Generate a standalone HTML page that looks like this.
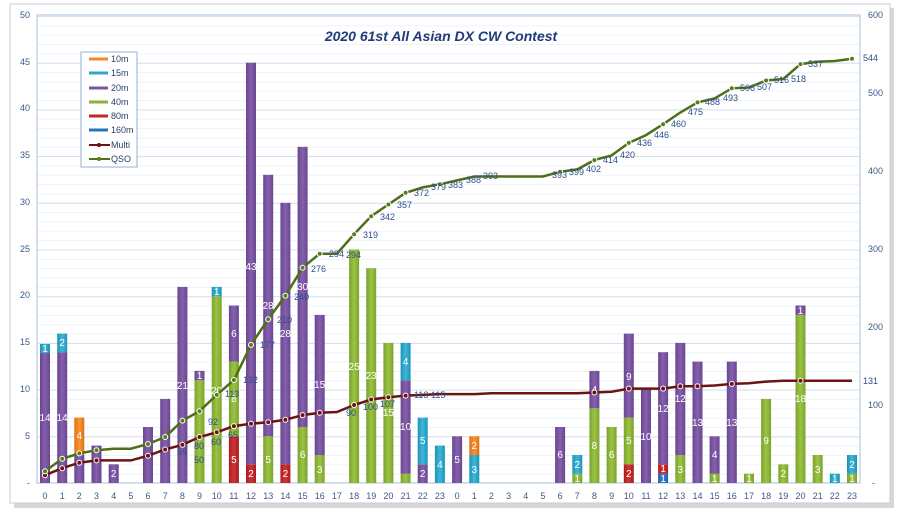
<!DOCTYPE html>
<html><head><meta charset="utf-8"><style>
body{margin:0;background:#fff;width:900px;height:513px;overflow:hidden}
text{font-family:"Liberation Sans",sans-serif}
.ax{font-size:9px;fill:#3b5a8a}
.bl{font-size:10px;fill:#fff;text-anchor:middle}
.ql{font-size:9px;fill:#2a4e8a}
.lg{font-size:9px;fill:#2a3e6a}
</style></head><body>
<svg width="900" height="513" viewBox="0 0 900 513" xmlns="http://www.w3.org/2000/svg">
<defs>
<pattern id="mn" x="0" y="483" width="10" height="9.34" patternUnits="userSpaceOnUse"><line x1="0" y1="0.5" x2="10" y2="0.5" stroke="#eef3fa" stroke-width="1"/></pattern>
<pattern id="mj" x="0" y="483" width="10" height="46.7" patternUnits="userSpaceOnUse"><line x1="0" y1="0.5" x2="10" y2="0.5" stroke="#d3e0f0" stroke-width="1"/></pattern>
<linearGradient id="p" x1="0" x2="1"><stop offset="0" stop-color="#6a4590"/><stop offset=".5" stop-color="#8561ad"/><stop offset="1" stop-color="#6a4590"/></linearGradient>
<linearGradient id="g" x1="0" x2="1"><stop offset="0" stop-color="#7ca22e"/><stop offset=".5" stop-color="#9cc443"/><stop offset="1" stop-color="#7ca22e"/></linearGradient>
<linearGradient id="c" x1="0" x2="1"><stop offset="0" stop-color="#1f93b5"/><stop offset=".5" stop-color="#3db7d8"/><stop offset="1" stop-color="#1f93b5"/></linearGradient>
<linearGradient id="o" x1="0" x2="1"><stop offset="0" stop-color="#e07010"/><stop offset=".5" stop-color="#f79537"/><stop offset="1" stop-color="#e07010"/></linearGradient>
<linearGradient id="r" x1="0" x2="1"><stop offset="0" stop-color="#a91c1e"/><stop offset=".5" stop-color="#d03436"/><stop offset="1" stop-color="#a91c1e"/></linearGradient>
<linearGradient id="b" x1="0" x2="1"><stop offset="0" stop-color="#2360ab"/><stop offset=".5" stop-color="#3b7fd0"/><stop offset="1" stop-color="#2360ab"/></linearGradient>
</defs>
<rect x="14" y="8" width="880" height="500" fill="#d8d8d8"/>
<rect x="10" y="4" width="880" height="499" fill="#fff" stroke="#c8ccd4"/>
<rect x="37" y="15" width="823" height="468" fill="url(#mn)"/>
<rect x="37" y="15" width="823" height="468" fill="url(#mj)"/>
<rect x="37" y="15" width="823" height="468" fill="none" stroke="#a9c0de"/>
<g class="ax" text-anchor="end">
<text x="30" y="18">50</text><text x="30" y="65">45</text><text x="30" y="111">40</text><text x="30" y="158">35</text><text x="30" y="205">30</text><text x="30" y="252">25</text><text x="30" y="298">20</text><text x="30" y="345">15</text><text x="30" y="392">10</text><text x="30" y="439">5</text><text x="30" y="486">-</text>
</g>
<g class="ax">
<text x="868" y="18">600</text><text x="868" y="96">500</text><text x="868" y="174">400</text><text x="868" y="252">300</text><text x="868" y="330">200</text><text x="868" y="408">100</text><text x="872" y="486">-</text>
</g>
<g class="ax" text-anchor="middle">
<text x="45" y="499">0</text><text x="62.2" y="499">1</text><text x="79.3" y="499">2</text><text x="96.5" y="499">3</text><text x="113.7" y="499">4</text><text x="130.9" y="499">5</text><text x="148" y="499">6</text><text x="165.2" y="499">7</text><text x="182.4" y="499">8</text><text x="199.5" y="499">9</text><text x="216.7" y="499">10</text><text x="233.9" y="499">11</text><text x="251" y="499">12</text><text x="268.2" y="499">13</text><text x="285.4" y="499">14</text><text x="302.6" y="499">15</text><text x="319.7" y="499">16</text><text x="336.9" y="499">17</text><text x="354.1" y="499">18</text><text x="371.2" y="499">19</text><text x="388.4" y="499">20</text><text x="405.6" y="499">21</text><text x="422.7" y="499">22</text><text x="439.9" y="499">23</text><text x="457.1" y="499">0</text><text x="474.3" y="499">1</text><text x="491.4" y="499">2</text><text x="508.6" y="499">3</text><text x="525.8" y="499">4</text><text x="542.9" y="499">5</text><text x="560.1" y="499">6</text><text x="577.3" y="499">7</text><text x="594.4" y="499">8</text><text x="611.6" y="499">9</text><text x="628.8" y="499">10</text><text x="646" y="499">11</text><text x="663.1" y="499">12</text><text x="680.3" y="499">13</text><text x="697.5" y="499">14</text><text x="714.6" y="499">15</text><text x="731.8" y="499">16</text><text x="749" y="499">17</text><text x="766.1" y="499">18</text><text x="783.3" y="499">19</text><text x="800.5" y="499">20</text><text x="817.7" y="499">21</text><text x="834.8" y="499">22</text><text x="852" y="499">23</text>
</g>
<g>
<rect x="40" y="352.2" width="10" height="130.8" fill="url(#p)"/><rect x="40" y="343.9" width="10" height="9.3" fill="url(#c)"/>
<rect x="57.2" y="352.2" width="10" height="130.8" fill="url(#p)"/><rect x="57.2" y="333.6" width="10" height="18.7" fill="url(#c)"/>
<rect x="74.3" y="455" width="10" height="28" fill="url(#p)"/><rect x="74.3" y="417.6" width="10" height="37.4" fill="url(#o)"/>
<rect x="91.5" y="445.6" width="10" height="37.4" fill="url(#p)"/>
<rect x="108.7" y="464.3" width="10" height="18.7" fill="url(#p)"/>
<rect x="143" y="427" width="10" height="56" fill="url(#p)"/>
<rect x="160.2" y="398.9" width="10" height="84.1" fill="url(#p)"/>
<rect x="177.4" y="286.9" width="10" height="196.1" fill="url(#p)"/>
<rect x="194.5" y="380.3" width="10" height="102.7" fill="url(#g)"/><rect x="194.5" y="370.9" width="10" height="9.4" fill="url(#p)"/>
<rect x="211.7" y="296.2" width="10" height="186.8" fill="url(#g)"/><rect x="211.7" y="286.9" width="10" height="9.3" fill="url(#c)"/>
<rect x="228.9" y="436.3" width="10" height="46.7" fill="url(#r)"/><rect x="228.9" y="361.6" width="10" height="74.7" fill="url(#g)"/><rect x="228.9" y="305.5" width="10" height="56.1" fill="url(#p)"/>
<rect x="246" y="464.3" width="10" height="18.7" fill="url(#r)"/><rect x="246" y="62.7" width="10" height="401.6" fill="url(#p)"/>
<rect x="263.2" y="436.3" width="10" height="46.7" fill="url(#g)"/><rect x="263.2" y="174.8" width="10" height="261.5" fill="url(#p)"/>
<rect x="280.4" y="464.3" width="10" height="18.7" fill="url(#r)"/><rect x="280.4" y="202.8" width="10" height="261.5" fill="url(#p)"/>
<rect x="297.6" y="427" width="10" height="56" fill="url(#g)"/><rect x="297.6" y="146.8" width="10" height="280.2" fill="url(#p)"/>
<rect x="314.7" y="455" width="10" height="28" fill="url(#g)"/><rect x="314.7" y="314.9" width="10" height="140.1" fill="url(#p)"/>
<rect x="349.1" y="249.5" width="10" height="233.5" fill="url(#g)"/>
<rect x="366.2" y="268.2" width="10" height="214.8" fill="url(#g)"/>
<rect x="383.4" y="342.9" width="10" height="140.1" fill="url(#g)"/>
<rect x="400.6" y="473.7" width="10" height="9.3" fill="url(#g)"/><rect x="400.6" y="380.3" width="10" height="93.4" fill="url(#p)"/><rect x="400.6" y="342.9" width="10" height="37.4" fill="url(#c)"/>
<rect x="417.7" y="464.3" width="10" height="18.7" fill="url(#p)"/><rect x="417.7" y="417.6" width="10" height="46.7" fill="url(#c)"/>
<rect x="434.9" y="445.6" width="10" height="37.4" fill="url(#c)"/>
<rect x="452.1" y="436.3" width="10" height="46.7" fill="url(#p)"/>
<rect x="469.3" y="455" width="10" height="28" fill="url(#c)"/><rect x="469.3" y="436.3" width="10" height="18.7" fill="url(#o)"/>
<rect x="555.1" y="427" width="10" height="56" fill="url(#p)"/>
<rect x="572.3" y="473.7" width="10" height="9.3" fill="url(#g)"/><rect x="572.3" y="455" width="10" height="18.7" fill="url(#c)"/>
<rect x="589.4" y="408.3" width="10" height="74.7" fill="url(#g)"/><rect x="589.4" y="370.9" width="10" height="37.4" fill="url(#p)"/>
<rect x="606.6" y="427" width="10" height="56" fill="url(#g)"/>
<rect x="623.8" y="464.3" width="10" height="18.7" fill="url(#r)"/><rect x="623.8" y="417.6" width="10" height="46.7" fill="url(#g)"/><rect x="623.8" y="333.6" width="10" height="84" fill="url(#p)"/>
<rect x="641" y="389.6" width="10" height="93.4" fill="url(#p)"/>
<rect x="658.1" y="473.7" width="10" height="9.3" fill="url(#b)"/><rect x="658.1" y="464.3" width="10" height="9.4" fill="url(#r)"/><rect x="658.1" y="352.2" width="10" height="112.1" fill="url(#p)"/>
<rect x="675.3" y="455" width="10" height="28" fill="url(#g)"/><rect x="675.3" y="342.9" width="10" height="112.1" fill="url(#p)"/>
<rect x="692.5" y="361.6" width="10" height="121.4" fill="url(#p)"/>
<rect x="709.6" y="473.7" width="10" height="9.3" fill="url(#g)"/><rect x="709.6" y="436.3" width="10" height="37.4" fill="url(#p)"/>
<rect x="726.8" y="361.6" width="10" height="121.4" fill="url(#p)"/>
<rect x="744" y="473.7" width="10" height="9.3" fill="url(#g)"/>
<rect x="761.1" y="398.9" width="10" height="84.1" fill="url(#g)"/>
<rect x="778.3" y="464.3" width="10" height="18.7" fill="url(#g)"/>
<rect x="795.5" y="314.9" width="10" height="168.1" fill="url(#g)"/><rect x="795.5" y="305.5" width="10" height="9.4" fill="url(#p)"/>
<rect x="812.7" y="455" width="10" height="28" fill="url(#g)"/>
<rect x="829.8" y="473.7" width="10" height="9.3" fill="url(#c)"/>
<rect x="847" y="473.7" width="10" height="9.3" fill="url(#g)"/><rect x="847" y="455" width="10" height="18.7" fill="url(#c)"/>
</g>
<g class="bl">
<text x="45" y="421">14</text><text x="45" y="352">1</text><text x="62.2" y="421">14</text><text x="62.2" y="346">2</text><text x="79.3" y="439">4</text><text x="113.7" y="477">2</text>
<text x="182.4" y="389">21</text><text x="199.5" y="379">1</text><text x="216.7" y="394">20</text><text x="216.7" y="295">1</text>
<text x="233.9" y="463">5</text><text x="233.9" y="402">8</text><text x="233.9" y="337">6</text><text x="251" y="477">2</text><text x="251" y="270">43</text>
<text x="268.2" y="463">5</text><text x="268.2" y="309">28</text><text x="285.4" y="477">2</text><text x="285.4" y="337">28</text><text x="302.6" y="458">6</text><text x="302.6" y="290">30</text>
<text x="319.7" y="473">3</text><text x="319.7" y="388">15</text><text x="354.1" y="370">25</text><text x="371.2" y="379">23</text><text x="388.4" y="416">15</text>
<text x="405.6" y="430">10</text><text x="405.6" y="365">4</text><text x="422.7" y="477">2</text><text x="422.7" y="444">5</text><text x="439.9" y="468">4</text>
<text x="457.1" y="463">5</text><text x="474.3" y="473">3</text><text x="474.3" y="449">2</text><text x="560.1" y="458">6</text><text x="577.3" y="482">1</text><text x="577.3" y="468">2</text>
<text x="594.4" y="449">8</text><text x="594.4" y="393">4</text><text x="611.6" y="458">6</text><text x="628.8" y="477">2</text><text x="628.8" y="444">5</text><text x="628.8" y="380">9</text>
<text x="646" y="440">10</text><text x="663.1" y="482">1</text><text x="663.1" y="472">1</text><text x="663.1" y="412">12</text><text x="680.3" y="473">3</text><text x="680.3" y="402">12</text>
<text x="697.5" y="426">13</text><text x="714.6" y="482">1</text><text x="714.6" y="458">4</text><text x="731.8" y="426">13</text><text x="749" y="482">1</text><text x="766.1" y="444">9</text>
<text x="783.3" y="477">2</text><text x="800.5" y="402">18</text><text x="800.5" y="314">1</text><text x="817.7" y="473">3</text><text x="834.8" y="482">1</text><text x="852" y="482">1</text><text x="852" y="468">2</text>
</g>
<polyline fill="none" stroke="#6a1414" stroke-width="2.5" points="45,475.2 62.2,468.2 79.3,462.7 96.5,460.4 113.7,460.4 130.9,460.4 148,455.7 165.2,449.5 182.4,444.8 199.5,437 216.7,432.3 233.9,426.1 251,423.7 268.2,422.2 285.4,419.8 302.6,415.1 319.7,412.8 336.9,412 354.1,405 371.2,399.5 388.4,397.2 405.6,395.6 422.7,394.9 439.9,394.1 457.1,394.1 474.3,394.1 491.4,393.3 508.6,393.3 525.8,393.3 542.9,393.3 560.1,393.3 577.3,393.3 594.4,392.5 611.6,391.7 628.8,388.6 646,388.6 663.1,388.6 680.3,386.3 697.5,386.3 714.6,385.5 731.8,383.9 749,383.2 766.1,381.6 783.3,380.8 800.5,380.8 817.7,380.8 834.8,380.8 852,380.8"/>
<polyline fill="none" stroke="#4f6e18" stroke-width="2.5" points="45,471.3 62.2,458.8 79.3,453.4 96.5,450.2 113.7,448.7 130.9,448.7 148,444 165.2,437 182.4,420.6 199.5,411.2 216.7,394.9 233.9,380 251,344.9 268.2,319.2 285.4,295.8 302.6,267.7 319.7,253.7 336.9,253.7 354.1,234.2 371.2,216.2 388.4,204.5 405.6,192.8 422.7,187.4 439.9,184.3 457.1,180.4 474.3,176.5 491.4,176.5 508.6,176.5 525.8,176.5 542.9,176.5 560.1,171.8 577.3,169.4 594.4,160.1 611.6,155.4 628.8,142.9 646,135.1 663.1,124.2 680.3,112.5 697.5,102.4 714.6,98.5 731.8,88.3 749,87.5 766.1,80.5 783.3,79 800.5,64.1 817.7,61.8 834.8,61 852,58.7"/>
<g fill="#6a1414" stroke="#fff" stroke-width="1">
<circle cx="45" cy="475.2" r="2.5"/><circle cx="62.2" cy="468.2" r="2.5"/><circle cx="79.3" cy="462.7" r="2.5"/><circle cx="96.5" cy="460.4" r="2.5"/><circle cx="148" cy="455.7" r="2.5"/><circle cx="165.2" cy="449.5" r="2.5"/><circle cx="182.4" cy="444.8" r="2.5"/><circle cx="199.5" cy="437" r="2.5"/><circle cx="216.7" cy="432.3" r="2.5"/><circle cx="233.9" cy="426.1" r="2.5"/><circle cx="251" cy="423.7" r="2.5"/><circle cx="268.2" cy="422.2" r="2.5"/><circle cx="285.4" cy="419.8" r="2.5"/><circle cx="302.6" cy="415.1" r="2.5"/><circle cx="319.7" cy="412.8" r="2.5"/><circle cx="354.1" cy="405" r="2.5"/><circle cx="371.2" cy="399.5" r="2.5"/><circle cx="388.4" cy="397.2" r="2.5"/><circle cx="405.6" cy="395.6" r="2.5"/><circle cx="594.4" cy="392.5" r="2.5"/><circle cx="628.8" cy="388.6" r="2.5"/><circle cx="663.1" cy="388.6" r="2.5"/><circle cx="680.3" cy="386.3" r="2.5"/><circle cx="697.5" cy="386.3" r="2.5"/><circle cx="731.8" cy="383.9" r="2.5"/><circle cx="800.5" cy="380.8" r="2.5"/>
</g>
<g fill="#5a7d1c" stroke="#fff" stroke-width="1">
<circle cx="45" cy="471.3" r="2.5"/><circle cx="62.2" cy="458.8" r="2.5"/><circle cx="79.3" cy="453.4" r="2.5"/><circle cx="96.5" cy="450.2" r="2.5"/><circle cx="148" cy="444" r="2.5"/><circle cx="165.2" cy="437" r="2.5"/><circle cx="182.4" cy="420.6" r="2.5"/><circle cx="199.5" cy="411.2" r="2.5"/><circle cx="216.7" cy="394.9" r="2.5"/><circle cx="233.9" cy="380" r="2.5"/><circle cx="251" cy="344.9" r="2.5"/><circle cx="268.2" cy="319.2" r="2.5"/><circle cx="285.4" cy="295.8" r="2.5"/><circle cx="302.6" cy="267.7" r="2.5"/><circle cx="319.7" cy="253.7" r="2.5"/><circle cx="354.1" cy="234.2" r="2.5"/><circle cx="371.2" cy="216.2" r="2.5"/><circle cx="388.4" cy="204.5" r="2.5"/><circle cx="405.6" cy="192.8" r="2.5"/><circle cx="439.9" cy="184.3" r="2.5"/><circle cx="560.1" cy="171.8" r="2.5"/><circle cx="594.4" cy="160.1" r="2.5"/><circle cx="628.8" cy="142.9" r="2.5"/><circle cx="663.1" cy="124.2" r="2.5"/><circle cx="697.5" cy="102.4" r="2.5"/><circle cx="731.8" cy="88.3" r="2.5"/><circle cx="766.1" cy="80.5" r="2.5"/><circle cx="800.5" cy="64.1" r="2.5"/><circle cx="852" cy="58.7" r="2.5"/>
</g>
<g class="ql">
<text x="208" y="425">92</text><text x="225" y="397">113</text><text x="243" y="383">132</text><text x="260" y="348">177</text><text x="277" y="323">210</text><text x="294" y="300">240</text><text x="311" y="272">276</text><text x="329" y="257">294</text><text x="346" y="258">294</text><text x="363" y="238">319</text><text x="380" y="220">342</text><text x="397" y="208">357</text><text x="414" y="196">372</text><text x="431" y="190">379</text><text x="448" y="188">383</text><text x="466" y="183">388</text><text x="483" y="179">393</text><text x="552" y="178">393</text><text x="569" y="175">399</text><text x="586" y="172">402</text><text x="603" y="163">414</text><text x="620" y="158">420</text><text x="637" y="146">436</text><text x="654" y="138">446</text><text x="671" y="127">460</text><text x="688" y="115">475</text><text x="705" y="105">488</text><text x="723" y="101">493</text><text x="740" y="91">506</text><text x="757" y="90">507</text><text x="774" y="83">516</text><text x="791" y="82">518</text><text x="808" y="67">537</text><text x="863" y="61">544</text><text x="863" y="384">131</text>
<text x="177" y="455">59</text><text x="194" y="449">80</text><text x="194" y="463">50</text><text x="211" y="445">60</text><text x="228" y="438">65</text><text x="346" y="416">90</text><text x="363" y="410">100</text><text x="380" y="407">107</text><text x="414" y="398">113</text><text x="431" y="398">115</text>
</g>
<text x="441" y="41" text-anchor="middle" font-size="14" font-weight="bold" font-style="italic" fill="#1f3b78">2020 61st All Asian DX CW Contest</text>
<rect x="81" y="52" width="56" height="115" fill="#fff" stroke="#8fb0d8"/>
<g stroke-width="3">
<line x1="89" y1="59" x2="108" y2="59" stroke="#f08a28"/><line x1="89" y1="73" x2="108" y2="73" stroke="#2fa8c8"/><line x1="89" y1="88" x2="108" y2="88" stroke="#7b559f"/><line x1="89" y1="102" x2="108" y2="102" stroke="#8db33a"/><line x1="89" y1="116" x2="108" y2="116" stroke="#c0282a"/><line x1="89" y1="130" x2="108" y2="130" stroke="#2e6fbd"/>
<line x1="89" y1="145" x2="110" y2="145" stroke="#6a1414" stroke-width="2"/><line x1="89" y1="159" x2="110" y2="159" stroke="#4f6e18" stroke-width="2"/>
</g>
<circle cx="99" cy="145" r="2" fill="#6a1414"/><circle cx="99" cy="159" r="2" fill="#5a7d1c"/>
<g class="lg"><text x="111" y="62">10m</text><text x="111" y="76">15m</text><text x="111" y="91">20m</text><text x="111" y="105">40m</text><text x="111" y="119">80m</text><text x="111" y="133">160m</text><text x="111" y="148">Multi</text><text x="111" y="162">QSO</text></g>
</svg>
</body></html>
